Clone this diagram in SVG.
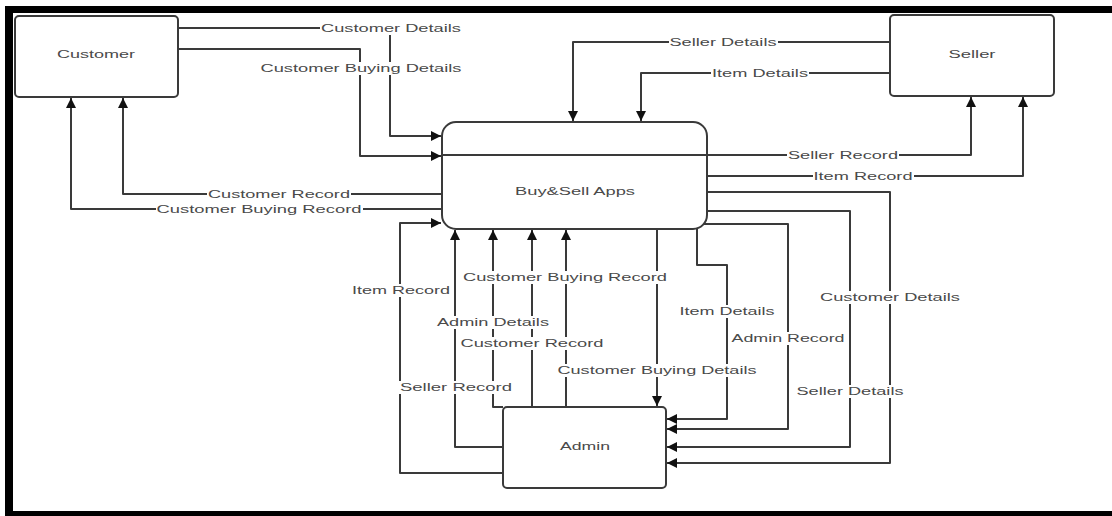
<svg xmlns="http://www.w3.org/2000/svg" width="1112" height="516" viewBox="0 0 1112 516">
<defs>
<style>
.frame{fill:#000}
.box{fill:#fff;stroke:#3a3a3a;stroke-width:2}
.ln{fill:none;stroke:#3a3a3a;stroke-width:2;stroke-linejoin:round}
.bg{fill:#fff}
.t{font-family:"Liberation Sans",Arial,sans-serif;font-size:11.5px;fill:#4a4a4a;text-anchor:middle}
</style>
<marker id="ah" viewBox="0 0 10 10" refX="10" refY="5" markerWidth="10" markerHeight="10" markerUnits="userSpaceOnUse" orient="auto">
<path d="M0,0 L10,5 L0,10 z" fill="#111"/>
</marker>
</defs>
<rect width="1112" height="516" fill="#fff"/>
<rect class="frame" x="5" y="6" width="1107" height="7"/>
<rect class="frame" x="5" y="6" width="8" height="510"/>
<rect class="frame" x="5" y="511" width="1107" height="5"/>

<g id="connectors">
<path class="ln" d="M178,28 H390 V136 H441" marker-end="url(#ah)"/>
<path class="ln" d="M178,49 H360 V156 H441" marker-end="url(#ah)"/>
<path class="ln" d="M442,194 H123 V98" marker-end="url(#ah)"/>
<path class="ln" d="M442,209 H71 V98" marker-end="url(#ah)"/>
<path class="ln" d="M890,42 H573 V121" marker-end="url(#ah)"/>
<path class="ln" d="M890,73 H641 V121" marker-end="url(#ah)"/>
<path class="ln" d="M443,155 H971 V97" marker-end="url(#ah)"/>
<path class="ln" d="M707,176 H1023 V97" marker-end="url(#ah)"/>
<path class="ln" d="M707,192 H890 V463 H667" marker-end="url(#ah)"/>
<path class="ln" d="M707,211 H850 V447 H667" marker-end="url(#ah)"/>
<path class="ln" d="M704,224 H788 V429 H667" marker-end="url(#ah)"/>
<path class="ln" d="M697,228 V265 H727 V419 H667" marker-end="url(#ah)"/>
<path class="ln" d="M657,229 V406" marker-end="url(#ah)"/>
<path class="ln" d="M503,473 H400 V223 H441" marker-end="url(#ah)"/>
<path class="ln" d="M503,447 H455 V230" marker-end="url(#ah)"/>
<path class="ln" d="M503,407 H493 V230" marker-end="url(#ah)"/>
<path class="ln" d="M532,407 V230" marker-end="url(#ah)"/>
<path class="ln" d="M566,407 V230" marker-end="url(#ah)"/>

<g id="labels">
<rect class="bg" x="320" y="22" width="142" height="13"/><text class="t" x="391" y="32" textLength="140" lengthAdjust="spacingAndGlyphs">Customer Details</text>
<rect class="bg" x="260" y="62" width="203" height="13"/><text class="t" x="361" y="72" textLength="201" lengthAdjust="spacingAndGlyphs">Customer Buying Details</text>
<rect class="bg" x="207" y="188" width="144" height="13"/><text class="t" x="279" y="198" textLength="142" lengthAdjust="spacingAndGlyphs">Customer Record</text>
<rect class="bg" x="156" y="203" width="207" height="13"/><text class="t" x="259" y="213" textLength="205" lengthAdjust="spacingAndGlyphs">Customer Buying Record</text>
<rect class="bg" x="669" y="36" width="109" height="13"/><text class="t" x="723" y="46" textLength="107" lengthAdjust="spacingAndGlyphs">Seller Details</text>
<rect class="bg" x="711" y="67" width="98" height="13"/><text class="t" x="760" y="77" textLength="96" lengthAdjust="spacingAndGlyphs">Item Details</text>
<rect class="bg" x="787" y="149" width="112" height="13"/><text class="t" x="843" y="159" textLength="110" lengthAdjust="spacingAndGlyphs">Seller Record</text>
<rect class="bg" x="813" y="170" width="101" height="13"/><text class="t" x="863" y="180" textLength="99" lengthAdjust="spacingAndGlyphs">Item Record</text>
<rect class="bg" x="819" y="291" width="142" height="13"/><text class="t" x="890" y="301" textLength="140" lengthAdjust="spacingAndGlyphs">Customer Details</text>
<rect class="bg" x="796" y="385" width="109" height="13"/><text class="t" x="850" y="395" textLength="107" lengthAdjust="spacingAndGlyphs">Seller Details</text>
<rect class="bg" x="731" y="332" width="115" height="13"/><text class="t" x="788" y="342" textLength="113" lengthAdjust="spacingAndGlyphs">Admin Record</text>
<rect class="bg" x="679" y="305" width="97" height="13"/><text class="t" x="727" y="315" textLength="95" lengthAdjust="spacingAndGlyphs">Item Details</text>
<rect class="bg" x="557" y="364" width="201" height="13"/><text class="t" x="657" y="374" textLength="199" lengthAdjust="spacingAndGlyphs">Customer Buying Details</text>
<rect class="bg" x="351" y="284" width="100" height="13"/><text class="t" x="401" y="294" textLength="98" lengthAdjust="spacingAndGlyphs">Item Record</text>
<rect class="bg" x="399" y="381" width="114" height="13"/><text class="t" x="456" y="391" textLength="112" lengthAdjust="spacingAndGlyphs">Seller Record</text>
<rect class="bg" x="436" y="316" width="114" height="13"/><text class="t" x="493" y="326" textLength="112" lengthAdjust="spacingAndGlyphs">Admin Details</text>
<rect class="bg" x="460" y="337" width="145" height="13"/><text class="t" x="532" y="347" textLength="143" lengthAdjust="spacingAndGlyphs">Customer Record</text>
<rect class="bg" x="462" y="271" width="206" height="13"/><text class="t" x="565" y="281" textLength="204" lengthAdjust="spacingAndGlyphs">Customer Buying Record</text>
</g>
</g>

<g id="customer">
<rect class="box" x="15" y="16" width="163" height="81" rx="4"/>
<text class="t" x="96" y="58" textLength="78" lengthAdjust="spacingAndGlyphs">Customer</text>
</g>
<g id="seller">
<rect class="box" x="890" y="15" width="164" height="81" rx="4"/>
<text class="t" x="972" y="58" textLength="47" lengthAdjust="spacingAndGlyphs">Seller</text>
</g>
<g id="buysell">
<rect class="box" x="442" y="122" width="265" height="107" rx="14" fill-opacity="0"/>
<text class="t" x="575" y="195" textLength="120" lengthAdjust="spacingAndGlyphs">Buy&amp;Sell Apps</text>
</g>
<g id="admin">
<rect class="box" x="503" y="407" width="163" height="81" rx="4"/>
<text class="t" x="585" y="450" textLength="50" lengthAdjust="spacingAndGlyphs">Admin</text>
</g>
</svg>
